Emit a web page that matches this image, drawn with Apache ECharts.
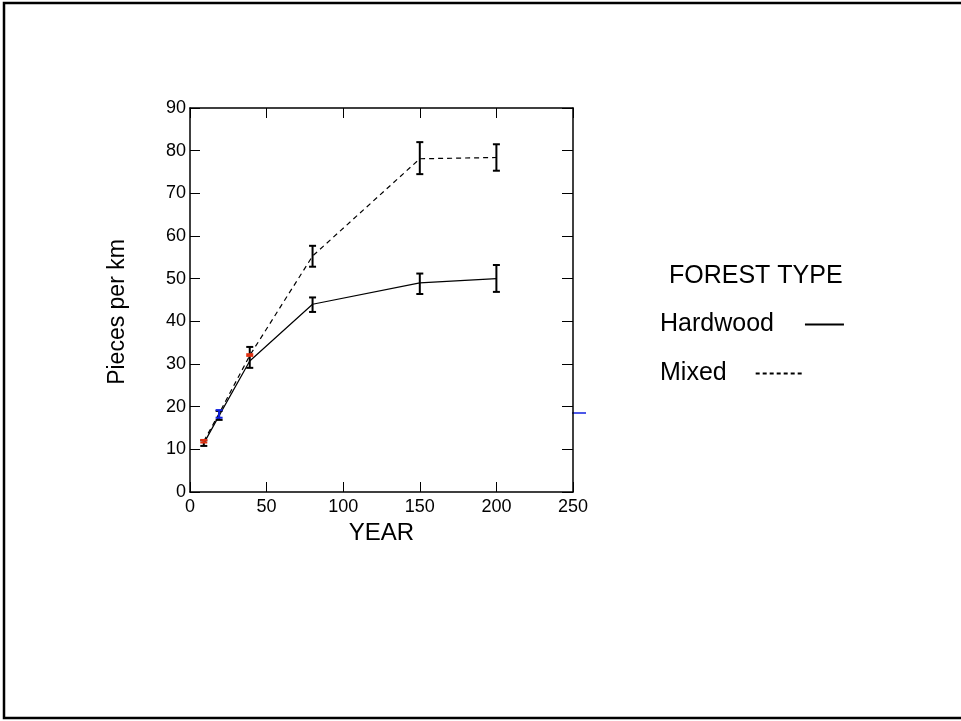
<!DOCTYPE html>
<html>
<head>
<meta charset="utf-8">
<script src="https://cdn.jsdelivr.net/npm/echarts@6/dist/echarts.min.js"></script>
<style>html,body{margin:0;padding:0;background:#fff}#c{width:961px;height:721px}</style>
</head>
<body>
<div id="c"></div>
<script>
var years = [9, 19, 39, 80, 150, 200];
var hardwoodMean = [11.4, 17.9, 30.7, 44.0, 49.0, 50.0];
var hardwoodLow  = [10.8, 16.9, 29.1, 42.2, 46.4, 46.9];
var hardwoodHigh = [12.1, 19.0, 34.0, 45.6, 51.2, 53.2];
var mixedMean = [11.9, 18.4, 32.0, 55.3, 78.1, 78.4];
var mixedLow  = [11.6, 17.4, 31.9, 52.8, 74.5, 75.3];
var mixedHigh = [12.2, 19.2, 32.3, 57.7, 82.0, 81.5];
var mixedBarColors = ['#e03010', '#1020e0', '#e03010', '#000', '#000', '#000'];

function pairs(xs, ys){ return xs.map(function(x,i){ return [x, ys[i]]; }); }
function bars(xs, lo, hi){ return xs.map(function(x,i){ return [x, lo[i], hi[i], i]; }); }

function errRender(colors){
  return function(params, api){
    var x = api.value(0), lo = api.value(1), hi = api.value(2), idx = api.value(3);
    var p1 = api.coord([x, lo]), p2 = api.coord([x, hi]);
    var w = 3.5;
    var col = colors ? colors[idx] : '#000';
    var st = {stroke: col, lineWidth: 2, fill: null};
    return {type:'group', children:[
      {type:'line', shape:{x1:p1[0],y1:p1[1],x2:p2[0],y2:p2[1]}, style:st},
      {type:'line', shape:{x1:p1[0]-w,y1:p1[1],x2:p1[0]+w,y2:p1[1]}, style:st},
      {type:'line', shape:{x1:p2[0]-w,y1:p2[1],x2:p2[0]+w,y2:p2[1]}, style:st}
    ]};
  };
}

var font = 'Liberation Sans, Arial, sans-serif';
var legendText = {fontFamily:font, fontSize:25, color:'#000'};
var chart = echarts.init(document.getElementById('c'), null, {renderer:'canvas'});
chart.setOption({
  backgroundColor:'#fff',
  animation:false,
  title:{text:'FOREST TYPE', left:669, top:264, padding:0, textStyle:{fontFamily:font, fontSize:25, fontWeight:'normal', color:'#000'}},
  legend:[{
    orient:'vertical', left:660, top:312, padding:0, align:'right', itemWidth:39, itemHeight:14,
    itemStyle:{opacity:0},
    textStyle:Object.assign({padding:[0,26,0,0]}, legendText),
    data:['Hardwood']
  },{
    orient:'vertical', left:660, top:361, padding:0, align:'right', itemWidth:47, itemHeight:14,
    itemStyle:{opacity:0},
    lineStyle:{type:[4,3]},
    textStyle:Object.assign({padding:[0,24,0,0]}, legendText),
    data:['Mixed']
  }],
  grid:{left:190, right:388, top:108, bottom:229},
  xAxis:[{
    type:'value', min:0, max:250, interval:50, position:'bottom',
    name:'YEAR', nameLocation:'middle', nameGap:28,
    nameTextStyle:{fontFamily:font, fontSize:24, color:'#000'},
    axisLine:{onZero:false, lineStyle:{color:'#000', width:1.5}},
    axisTick:{inside:true, length:10, lineStyle:{color:'#000', width:1}},
    axisLabel:{fontFamily:font, fontSize:18, color:'#000', margin:6},
    splitLine:{show:false}
  },{
    type:'value', min:0, max:250, interval:50, position:'top',
    axisLine:{onZero:false, lineStyle:{color:'#000', width:1.5}},
    axisTick:{inside:true, length:10, lineStyle:{color:'#000', width:1}},
    axisLabel:{show:false}, splitLine:{show:false}
  }],
  yAxis:[{
    type:'value', min:0, max:90, interval:10, position:'left',
    name:'Pieces per km', nameLocation:'middle', nameGap:61,
    nameTextStyle:{fontFamily:font, fontSize:23, color:'#000', padding:[0,24,0,0]},
    axisLine:{show:true, onZero:false, lineStyle:{color:'#000', width:1.5}},
    axisTick:{show:true, inside:true, length:10, lineStyle:{color:'#000', width:1}},
    axisLabel:{fontFamily:font, fontSize:18, color:'#000', margin:4},
    splitLine:{show:false}
  },{
    type:'value', min:0, max:90, interval:10, position:'right',
    axisLine:{show:true, onZero:false, lineStyle:{color:'#000', width:1.5}},
    axisTick:{show:true, inside:true, length:11, lineStyle:{color:'#000', width:1}},
    axisLabel:{show:false}, splitLine:{show:false}
  }],
  series:[
    {name:'Hardwood', type:'line', symbol:'none', data:pairs(years, hardwoodMean),
     lineStyle:{color:'#000', width:1.2}, itemStyle:{color:'#000'}},
    {name:'Mixed', type:'line', symbol:'none', data:pairs(years, mixedMean),
     lineStyle:{color:'#000', width:1.2, type:[5,4]}, itemStyle:{color:'#000'}},
    {type:'custom', renderItem:errRender(null), data:bars(years, hardwoodLow, hardwoodHigh), z:3},
    {type:'custom', renderItem:errRender(mixedBarColors), data:bars(years, mixedLow, mixedHigh), z:4}
  ],
  graphic:[
    {type:'polyline', shape:{points:[[961,3],[4,3],[4,718],[961,718]]}, style:{stroke:'#000', lineWidth:2.5, fill:null}, silent:true},
    {type:'line', shape:{x1:572,y1:413,x2:586,y2:413}, style:{stroke:'#1020e0', lineWidth:1.5}, silent:true}
  ]
});
</script>
</body>
</html>
